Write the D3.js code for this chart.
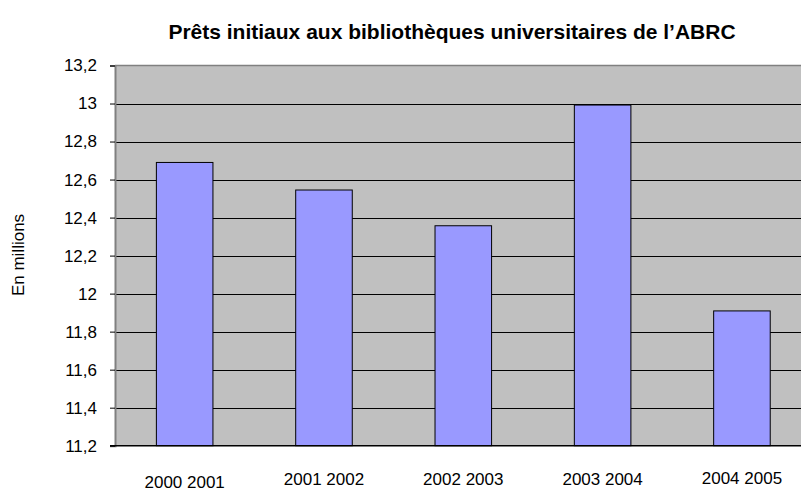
<!DOCTYPE html>
<meta charset="utf-8">
<style>
    body { margin: 0; background: #fff; }
    text { font-family: "Liberation Sans", Arial, sans-serif; fill: #000; }
</style>

<body>
    <script src="https://d3js.org/d3.v7.min.js"></script>
    <script>
        var years = ["2000 2001", "2001 2002", "2002 2003", "2003 2004", "2004 2005"];
        var loans = [12.69, 12.545, 12.357, 12.992, 11.909];
        var yTicks = [11.2, 11.4, 11.6, 11.8, 12, 12.2, 12.4, 12.6, 12.8, 13, 13.2];

        var width = 801,
            height = 492,
            plotLeft = 115, plotRight = 811.6,
            plotTop = 65.5, plotBottom = 445.7;

        var svg = d3.select("body").append("svg")
            .attr("width", width)
            .attr("height", height);

        var x = d3.scaleBand()
            .domain(years)
            .range([plotLeft, plotRight])
            .paddingInner(0.594)
            .paddingOuter(0.297);

        var y = d3.scaleLinear()
            .domain([11.2, 13.2])
            .range([plotBottom, plotTop]);

        var fmt = function (d) { return d3.format("~g")(d).replace(".", ","); };

        // plot background
        svg.append("rect")
            .attr("x", plotLeft).attr("y", plotTop)
            .attr("width", plotRight - plotLeft).attr("height", plotBottom - plotTop)
            .attr("fill", "#c0c0c0");

        // gridlines
        svg.selectAll("line.grid")
            .data(yTicks.slice(1, -1))
            .enter().append("line")
            .attr("class", "grid")
            .attr("x1", plotLeft).attr("x2", plotRight)
            .attr("y1", function (d) { return Math.round(y(d)) + 0.5; })
            .attr("y2", function (d) { return Math.round(y(d)) + 0.5; })
            .attr("stroke", "#000").attr("stroke-width", 1);

        // top border
        svg.append("line")
            .attr("x1", plotLeft).attr("x2", plotRight)
            .attr("y1", y(13.2)).attr("y2", y(13.2))
            .attr("stroke", "#808080").attr("stroke-width", 1.5);

        // bars
        svg.selectAll("rect.bar")
            .data(loans)
            .enter().append("rect")
            .attr("class", "bar")
            .attr("x", function (d, i) { return x(years[i]); })
            .attr("y", function (d) { return y(d); })
            .attr("width", x.bandwidth())
            .attr("height", function (d) { return plotBottom - y(d); })
            .attr("fill", "#9999ff")
            .attr("stroke", "#000")
            .attr("stroke-width", 1);

        // y axis
        var yAxis = svg.append("g")
            .attr("transform", "translate(" + plotLeft + ",0)")
            .call(d3.axisLeft(y).tickValues(yTicks).tickFormat(fmt).tickSize(5).tickPadding(13));
        yAxis.select(".domain").attr("stroke", "#808080").attr("stroke-width", 2);
        yAxis.selectAll(".tick line").attr("stroke", "#000");
        yAxis.selectAll(".tick text").style("font-size", "17px");

        // bottom axis line
        svg.append("line")
            .attr("x1", plotLeft - 5).attr("x2", plotRight)
            .attr("y1", plotBottom).attr("y2", plotBottom)
            .attr("stroke", "#000").attr("stroke-width", 1.5);

        // x labels (first one sits a little lower, as in the original)
        svg.selectAll("text.xlab")
            .data(years)
            .enter().append("text")
            .attr("class", "xlab")
            .attr("x", function (d) { return x(d) + x.bandwidth() / 2; })
            .attr("y", function (d, i) { return i == 0 ? 488 : (i == 4 ? 484 : 485); })
            .attr("text-anchor", "middle")
            .style("font-size", "17px")
            .text(function (d) { return d; });

        // title
        svg.append("text")
            .attr("x", 452).attr("y", 39)
            .attr("text-anchor", "middle")
            .style("font-size", "21px")
            .style("font-weight", "bold")
            .text("Prêts initiaux aux bibliothèques universitaires de l’ABRC");

        // y axis title
        svg.append("text")
            .attr("transform", "translate(24,255) rotate(-90)")
            .attr("text-anchor", "middle")
            .style("font-size", "17px")
            .text("En millions");
    </script>
</body>
